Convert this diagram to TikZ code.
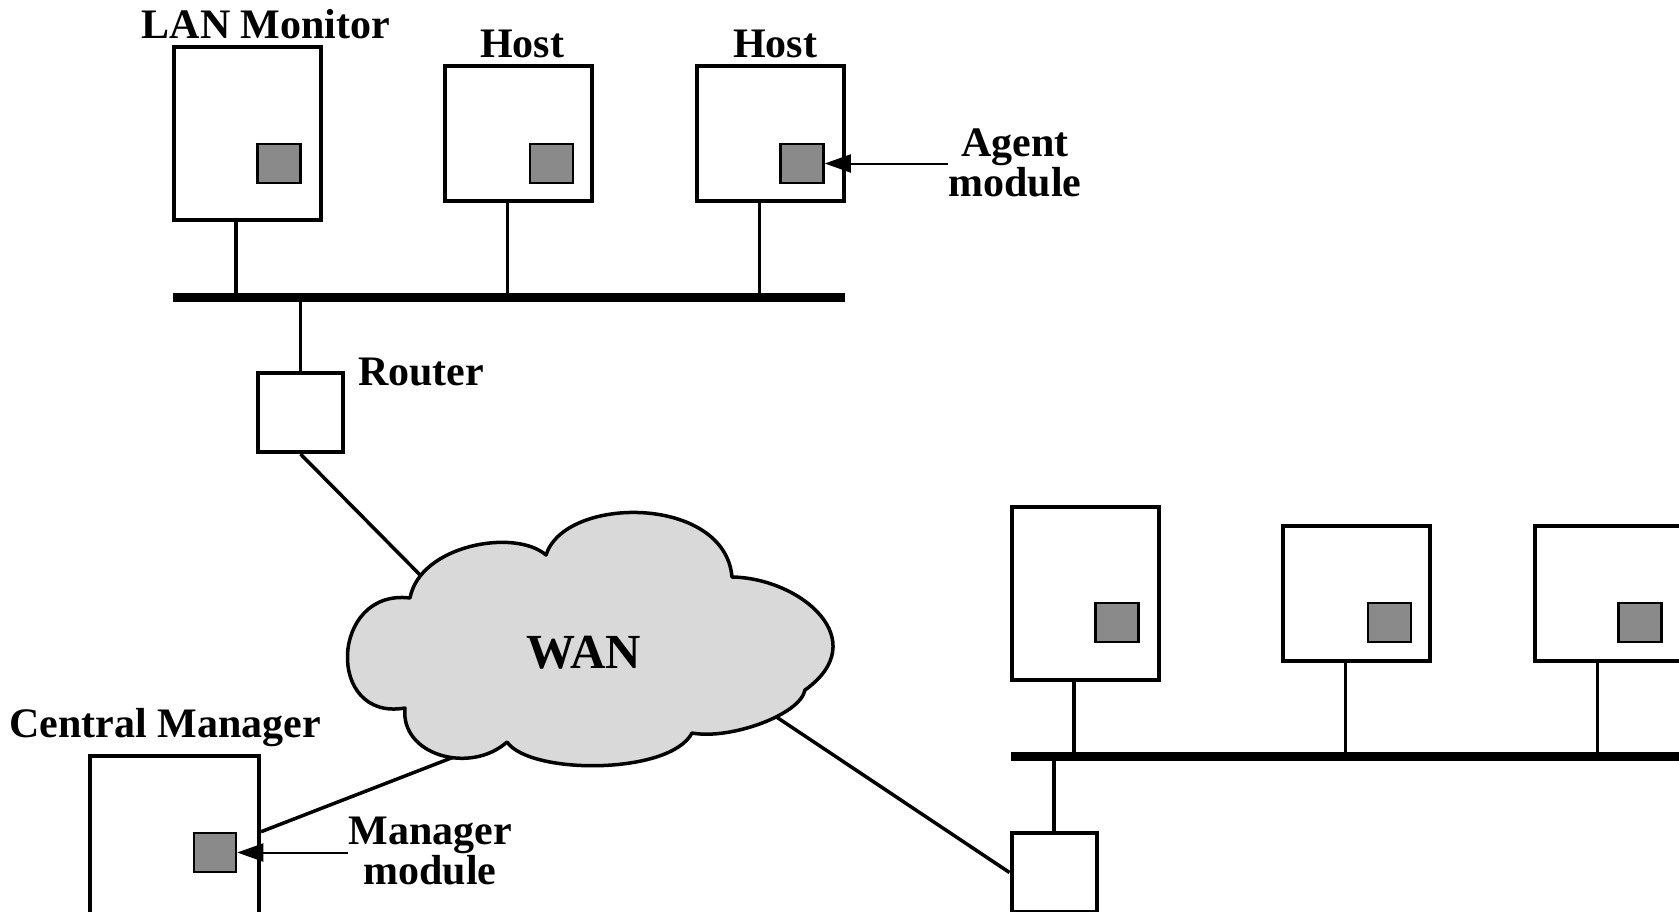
\documentclass[tikz,border=0pt]{standalone}
\usepackage{fontspec}
\setmainfont{Liberation Serif}
\usetikzlibrary{arrows.meta}
\definecolor{modgray}{RGB}{138,138,138}
\definecolor{cloudgray}{RGB}{217,217,217}

\begin{document}
\begin{tikzpicture}[x=1pt,y=-1pt,
  station/.style={draw,line width=4pt,fill=white,inner sep=0,minimum width=147pt},
  tallbox/.style={station,minimum height=173pt},
  shortbox/.style={station,minimum height=135pt},
  module/.style={draw,line width=2.5pt,fill=modgray,inner sep=0,minimum width=43pt,minimum height=39pt},
  routerbox/.style={draw,line width=4pt,fill=white,inner sep=0,minimum width=85pt,minimum height=79pt},
  bus/.style={line width=9pt},
  drop/.style={line width=3.5pt},
  link/.style={line width=3.5pt},
  pointer/.style={line width=2pt,-{Triangle[length=26pt,width=18pt]}},
  label/.style={inner sep=0,font=\bfseries\fontsize{42}{37}\selectfont,align=center},
]
\clip (0,0) rectangle (1679,911);
\fill[white] (0,0) rectangle (1679,911);

% ---------- upper LAN ----------
\node[tallbox]  (lm) at (247,133.5) {};
\node[shortbox] (h1) at (518.5,133.5) {};
\node[shortbox] (h2) at (770.5,133.5) {};
\node[module] (m1) at (279,163.5) {};
\node[module] (m2) at (551.5,163.5) {};
\node[module] (m3) at (802,163.5) {};
\coordinate (busAL) at (173,297);
\coordinate (busAR) at (845,297);
\draw[bus] (busAL) -- (busAR);
\foreach \n in {lm,h1,h2}
  \draw[drop] ([xshift=-11pt]\n.south) -- ([xshift=-11pt]\n.south |- busAL);
\node[routerbox] (ra) at (300.5,412.5) {};
\draw[drop] (ra.north) -- (ra.north |- busAL);

\node[label,anchor=base] (lmlbl) at (266,38) {LAN Monitor};
\node[label,anchor=base] (h1lbl) at (522,57) {Host};
\node[label,anchor=base] (h2lbl) at (775,57) {Host};
\node[label,anchor=base] (ralbl) at (421,385) {Router};
\node[label] (agent) at (1015,163) {Agent\\module};
\draw[pointer] (agent.west |- m3.east) -- (m3.east);

% ---------- lower LAN ----------
\node[tallbox]  (ba) at (1085,593.5) {};
\node[shortbox] (bb) at (1356.5,593.5) {};
\node[shortbox] (bc) at (1608.5,593.5) {};
\node[module] (n1) at (1117,622.5) {};
\node[module] (n2) at (1389.5,622.5) {};
\node[module] (n3) at (1640,622.5) {};
\coordinate (busBL) at (1011,756);
\coordinate (busBR) at (1700,756);
\draw[bus] (busBL) -- (busBR);
\foreach \n in {ba,bb,bc}
  \draw[drop] ([xshift=-11pt]\n.south) -- ([xshift=-11pt]\n.south |- busBL);
\node[routerbox] (rb) at (1054,872.5) {};
\draw[drop] (rb.north) -- (rb.north |- busBL);

% ---------- central manager ----------
\node[station,minimum width=169pt,minimum height=200pt] (cm) at (174.5,856) {};
\node[module,minimum width=42pt] (mm) at (215,852.5) {};
\node[label,anchor=base] (cmlbl) at (165,737) {Central Manager};
\node[label] (mgr) at (430,851) {Manager\\module};
\draw[pointer] (mgr.west |- mm.east) -- (mm.east);

% ---------- WAN links (ends hidden under the cloud) ----------
\coordinate (wanNW) at (432,587);
\coordinate (wanSE) at (754,702);
\coordinate (wanSW) at (490,743);
\draw[link] (ra.south) -- (wanNW);
\draw[link] (wanSE) -- (rb.west);
\draw[link] (wanSW) -- (cm.east |- mm.north);

% ---------- WAN cloud ----------
\draw[line width=3.5pt,line join=round,fill=cloudgray]
  (405,708) .. controls (325,722) and (330,588) .. (410,598)
  .. controls (420,545) and (515,528) .. (546,555)
  .. controls (565,495) and (725,495) .. (732,577)
  .. controls (800,578) and (875,640) .. (805,690)
  .. controls (800,715) and (730,740) .. (692,733)
  .. controls (670,775) and (530,775) .. (507,742)
  .. controls (470,775) and (400,755) .. (405,708) -- cycle;
\node[label,font=\bfseries\fontsize{49}{52}\selectfont,anchor=base] (wanlbl) at (584,668) {WAN};
\end{tikzpicture}
\end{document}
